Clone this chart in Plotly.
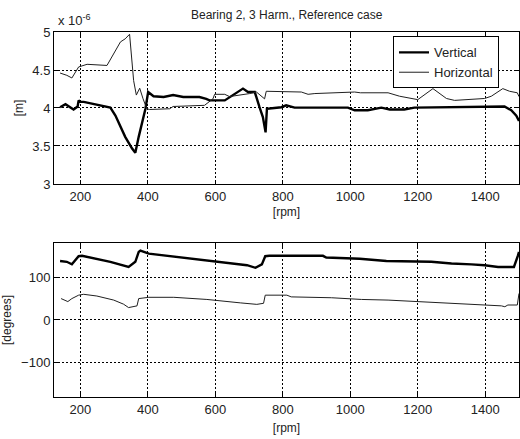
import plotly.graph_objects as go

# ---- data (displacement in units of 1e-6 m, phase in degrees) ----
rpm_v_amp = [140, 156, 180, 192, 195, 199, 210, 289, 304, 319, 333, 353, 363, 373, 383, 393, 401, 417, 447, 475, 505, 553, 573, 583, 628, 682, 697, 717, 731, 741, 749, 753, 775, 796, 810, 820, 835, 993, 1013, 1052, 1092, 1117, 1160, 1190, 1457, 1477, 1492, 1500]
v_amp = [4.01, 4.05, 3.98, 4.02, 4.10, 4.08, 4.08, 4.005, 3.90, 3.75, 3.62, 3.47, 3.41, 3.62, 3.82, 3.99, 4.21, 4.155, 4.145, 4.17, 4.145, 4.145, 4.12, 4.10, 4.10, 4.255, 4.21, 4.21, 4.01, 3.88, 3.68, 3.99, 4.0, 4.01, 4.035, 4.02, 4.005, 4.005, 3.97, 3.97, 4.005, 3.98, 3.98, 4.005, 4.02, 3.97, 3.90, 3.83]

rpm_h_amp = [140, 160, 175, 195, 220, 279, 319, 333, 346, 358, 366, 376, 386, 397, 405, 465, 475, 568, 593, 598, 628, 642, 702, 722, 746, 751, 855, 875, 895, 1003, 1013, 1030, 1112, 1146, 1200, 1245, 1285, 1309, 1398, 1418, 1452, 1472, 1495, 1500]
h_amp = [4.46, 4.43, 4.395, 4.54, 4.575, 4.56, 4.87, 4.91, 4.97, 4.36, 4.17, 4.26, 4.12, 3.99, 3.98, 3.99, 4.02, 4.035, 4.12, 4.18, 4.18, 4.15, 4.19, 4.21, 4.12, 4.22, 4.21, 4.18, 4.19, 4.20, 4.21, 4.20, 4.20, 4.155, 4.11, 4.255, 4.125, 4.10, 4.125, 4.155, 4.255, 4.22, 4.20, 4.15]

rpm_v_ph = [140, 160, 175, 195, 205, 249, 289, 343, 363, 373, 378, 403, 457, 516, 595, 645, 694, 719, 738, 748, 760, 919, 929, 1028, 1107, 1240, 1300, 1359, 1398, 1438, 1485, 1497, 1500]
v_ph = [138, 136, 130, 149, 150, 143, 136, 124, 136, 159, 162, 155, 150, 146, 138, 133, 128, 122, 130, 149, 150, 150, 146, 143, 138, 136, 132, 130, 128, 124, 124, 151, 159]

rpm_h_ph = [143, 163, 175, 195, 210, 249, 299, 328, 343, 368, 373, 403, 477, 575, 674, 723, 743, 748, 812, 825, 944, 1033, 1112, 1171, 1280, 1359, 1398, 1448, 1458, 1467, 1495, 1500]
h_ph = [50, 43, 50, 58, 60, 56, 46.5, 37, 29, 33, 50, 53, 53, 48, 40, 36.5, 39, 58, 58, 54, 52, 48, 46.5, 44, 40, 37, 35, 33, 31, 35, 35, 62]

x_ticks = [200, 400, 600, 800, 1000, 1200, 1400]
amp_ticks = [3, 3.5, 4, 4.5, 5]
amp_tick_text = ["3", "3.5", "4", "4.5", "5"]
ph_ticks = [-100, 0, 100]

FONT = "Liberation Sans, Arial, sans-serif"
TXT = "#222222"

fig = go.Figure()
fig.add_trace(go.Scatter(x=rpm_v_amp, y=v_amp, mode="lines", name="Vertical",
                         line=dict(color="black", width=2.4), xaxis="x", yaxis="y"))
fig.add_trace(go.Scatter(x=rpm_h_amp, y=h_amp, mode="lines", name="Horizontal",
                         line=dict(color="#202020", width=1), xaxis="x", yaxis="y"))
fig.add_trace(go.Scatter(x=rpm_v_ph, y=v_ph, mode="lines", showlegend=False,
                         line=dict(color="black", width=2.4), xaxis="x2", yaxis="y2"))
fig.add_trace(go.Scatter(x=rpm_h_ph, y=h_ph, mode="lines", showlegend=False,
                         line=dict(color="#202020", width=1), xaxis="x2", yaxis="y2"))

axis_common = dict(showline=True, linecolor="black", linewidth=1, mirror="ticks",
                   ticks="inside", ticklen=4, tickcolor="black",
                   showgrid=True, gridcolor="black", griddash="2px,2px", gridwidth=1,
                   zeroline=False, tickfont=dict(family=FONT, size=13, color=TXT))

fig.update_layout(
    width=520, height=439,
    margin=dict(l=54, r=1, t=32, b=42),
    paper_bgcolor="white", plot_bgcolor="white",
    font=dict(family=FONT, color=TXT),
    xaxis=dict(domain=[0, 1], range=[122, 1500], tickvals=x_ticks, anchor="y",
               title=dict(text="[rpm]", font=dict(size=12, color=TXT), standoff=5), **axis_common),
    yaxis=dict(domain=[0.5836, 1], range=[3, 5], tickvals=amp_ticks, ticktext=amp_tick_text, anchor="x",
               title=dict(text="[m]", font=dict(size=12, color=TXT), standoff=6), **axis_common),
    xaxis2=dict(domain=[0, 1], range=[122, 1500], tickvals=x_ticks, anchor="y2",
                title=dict(text="[rpm]", font=dict(size=12, color=TXT), standoff=8), **axis_common),
    yaxis2=dict(domain=[0, 0.422], range=[-180, 180], tickvals=ph_ticks, anchor="x2",
                title=dict(text="[degrees]", font=dict(size=12, color=TXT), standoff=6), **axis_common),
    legend=dict(x=0.957, xanchor="right", y=0.988, yanchor="top",
                bgcolor="white", bordercolor="black", borderwidth=1,
                font=dict(family=FONT, size=13, color=TXT),
                tracegroupgap=0, itemwidth=30),
    showlegend=True,
)

fig.add_annotation(text="Bearing 2, 3 Harm., Reference case", xref="paper", yref="paper",
                   x=0.5, y=1, yshift=17, showarrow=False, xanchor="center", yanchor="middle",
                   font=dict(family=FONT, size=12, color=TXT))
fig.add_annotation(text="x 10<sup>-6</sup>", xref="paper", yref="paper",
                   x=0, y=1, yshift=12, xshift=2, showarrow=False, xanchor="left", yanchor="middle",
                   font=dict(family=FONT, size=13, color=TXT))

fig.write_html("out.html")
